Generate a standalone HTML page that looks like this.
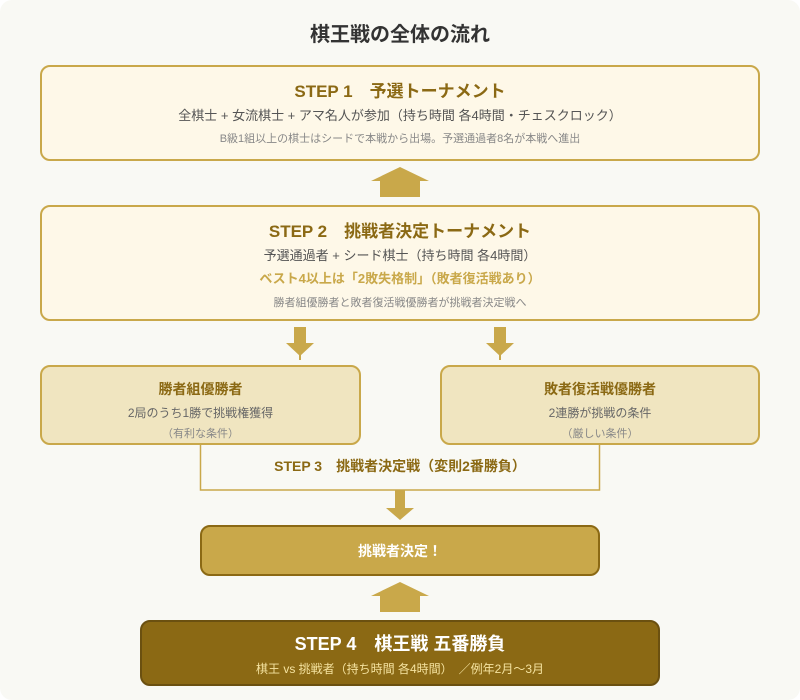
<!DOCTYPE html>
<html><head><meta charset="utf-8"><style>
html,body{margin:0;padding:0;}
body{width:800px;height:700px;background:#fff;font-family:"Liberation Sans","Noto Sans CJK JP",sans-serif;position:relative;overflow:hidden;}
.bg{position:absolute;left:0;top:0;width:800px;height:700px;background:#f9f9f4;border-radius:12px;}
.box{position:absolute;box-sizing:border-box;border-radius:10px;text-align:center;}
.t{position:absolute;left:0;right:0;text-align:center;white-space:nowrap;}
</style></head><body>
<div class="bg"></div>
<div class="t" style="top:18px;font-size:20px;font-weight:bold;color:#333;">棋王戦の全体の流れ</div>

<div class="box" style="left:40px;top:65px;width:720px;height:96px;background:#fef8e8;border:2px solid #c9a84a;">
<div class="t" style="top:10px;font-size:17px;font-weight:bold;color:#8b6914;">STEP 1　予選トーナメント</div>
<div class="t" style="top:38px;font-size:13px;color:#555;">全棋士 + 女流棋士 + アマ名人が参加（持ち時間 各4時間・チェスクロック）</div>
<div class="t" style="top:63px;font-size:11px;color:#888;">B級1組以上の棋士はシードで本戦から出場。予選通過者8名が本戦へ進出</div>
</div>

<svg style="position:absolute;left:0;top:0" width="800" height="700">
<polygon points="371,181 400,167 429,181" fill="#c9a84a"/>
<rect x="380" y="180" width="40" height="17" fill="#c9a84a"/>
<rect x="294" y="327" width="12" height="16" fill="#c9a84a"/><polygon points="286,343 314,343 300,356" fill="#c9a84a"/><rect x="299" y="355" width="2" height="5" fill="#c9a84a"/>
<rect x="494" y="327" width="12" height="16" fill="#c9a84a"/><polygon points="486,343 514,343 500,356" fill="#c9a84a"/><rect x="499" y="355" width="2" height="5" fill="#c9a84a"/>
<polyline points="200.5,444 200.5,490 599.5,490 599.5,444" fill="none" stroke="#c9a84a" stroke-width="1.5"/>
<rect x="395" y="490" width="10" height="18" fill="#c9a84a"/><polygon points="386,508 414,508 400,520" fill="#c9a84a"/>
<polygon points="371,596 400,582 429,596" fill="#c9a84a"/>
<rect x="380" y="595" width="40" height="17" fill="#c9a84a"/>
</svg>

<div class="box" style="left:40px;top:205px;width:720px;height:116px;background:#fef8e8;border:2px solid #c9a84a;">
<div class="t" style="top:10px;font-size:17px;font-weight:bold;color:#8b6914;">STEP 2　挑戦者決定トーナメント</div>
<div class="t" style="top:38px;font-size:13px;color:#555;">予選通過者 + シード棋士（持ち時間 各4時間）</div>
<div class="t" style="top:61px;font-size:13px;font-weight:bold;color:#c9a84a;">ベスト4以上は「2敗失格制」（敗者復活戦あり）</div>
<div class="t" style="top:87px;font-size:11px;color:#888;">勝者組優勝者と敗者復活戦優勝者が挑戦者決定戦へ</div>
</div>

<div class="box" style="left:40px;top:365px;width:321px;height:80px;background:#f0e5c0;border:2px solid #c9a84a;">
<div class="t" style="top:12px;font-size:14px;font-weight:bold;color:#8b6914;">勝者組優勝者</div>
<div class="t" style="top:37px;font-size:12px;color:#666;">2局のうち1勝で挑戦権獲得</div>
<div class="t" style="top:58px;font-size:11px;color:#888;">（有利な条件）</div>
</div>
<div class="box" style="left:440px;top:365px;width:320px;height:80px;background:#f0e5c0;border:2px solid #c9a84a;">
<div class="t" style="top:12px;font-size:14px;font-weight:bold;color:#8b6914;">敗者復活戦優勝者</div>
<div class="t" style="top:37px;font-size:12px;color:#666;">2連勝が挑戦の条件</div>
<div class="t" style="top:58px;font-size:11px;color:#888;">（厳しい条件）</div>
</div>
<div class="t" style="top:456px;font-size:14px;font-weight:bold;color:#8b6914;">STEP 3　挑戦者決定戦（変則2番勝負）</div>

<div class="box" style="left:200px;top:525px;width:400px;height:51px;background:#c9a84a;border:2px solid #8b6914;">
<div class="t" style="top:14px;font-size:14px;font-weight:bold;color:#fff;">挑戦者決定！</div>
</div>

<div class="box" style="left:140px;top:620px;width:520px;height:66px;background:#8b6914;border:2px solid #6b5010;">
<div class="t" style="top:8px;font-size:18px;font-weight:bold;color:#fff;">STEP 4　棋王戦 五番勝負</div>
<div class="t" style="top:38px;font-size:12px;color:#f5e3a0;">棋王 vs 挑戦者（持ち時間 各4時間）　／例年2月〜3月</div>
</div>
</body></html>
